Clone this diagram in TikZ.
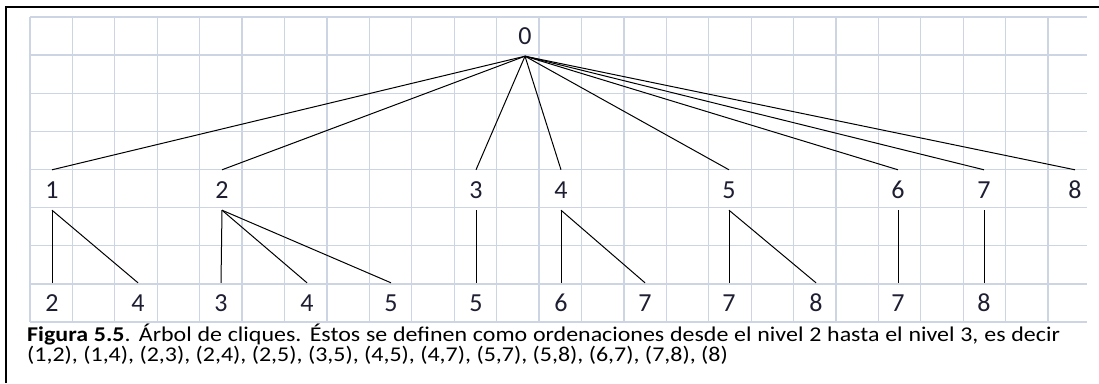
\documentclass[tikz,border=0pt]{standalone}
\usepackage{fontspec}
\setmainfont{Carlito}
\usepackage{graphicx}
\definecolor{gridblue}{RGB}{205,213,228}
\definecolor{digitink}{RGB}{30,30,50}
\tikzset{
  cell/.style={inner sep=0pt, minimum height=40pt, text=digitink,
    font=\fontsize{26}{26}\selectfont},
  edge/.style={line width=1pt},
  gridline/.style={gridblue, line width=1.3pt},
  captext/.style={inner sep=0pt, anchor=base west, font=\fontsize{21}{21}\selectfont},
}

\begin{document}
\begin{tikzpicture}[x=1pt,y=-1pt]
  \useasboundingbox (0,0) rectangle (1099,383);
  % hoja de fondo
  \foreach \i in {0,...,24}
    \draw[gridline] ({30+42.42*\i},17) -- ({30+42.42*\i},322);
  \foreach \j in {0,...,8}
    \draw[gridline] (30,{17+38.125*\j}) -- (1087,{17+38.125*\j});
  \draw[line width=2pt] (6,383) -- (6,7) -- (1099,7);

  % nivel 0 y nivel 1
  \node[cell] (r) at (525,36) {0};
  \node[cell] (n1) at (52,190) {1};
  \node[cell] (n2) at (222,190) {2};
  \node[cell] (n3) at (476,190) {3};
  \node[cell] (n4) at (561,190) {4};
  \node[cell] (n5) at (729,190) {5};
  \node[cell] (n6) at (898,190) {6};
  \node[cell] (n7) at (984,190) {7};
  \node[cell] (n8) at (1075,190) {8};
  \foreach \n in {n1,n2,n3,n4,n5,n6,n7,n8}
    \draw[edge] (r.south) -- (\n.north);

  % nivel 2
  \node[cell] (k12) at (52,303) {2};
  \node[cell] (k14) at (138,303) {4};
  \node[cell] (k23) at (221,303) {3};
  \node[cell] (k24) at (307,303) {4};
  \node[cell] (k25) at (391,303) {5};
  \node[cell] (k35) at (476,303) {5};
  \node[cell] (k46) at (561,303) {6};
  \node[cell] (k47) at (645,303) {7};
  \node[cell] (k57) at (729,303) {7};
  \node[cell] (k58) at (816,303) {8};
  \node[cell] (k67) at (898,303) {7};
  \node[cell] (k78) at (984,303) {8};
  \draw[edge] (n1.south) -- (k12.north);
  \draw[edge] (n1.south) -- (k14.north);
  \draw[edge] (n2.south) -- (k23.north);
  \draw[edge] (n2.south) -- (k24.north);
  \draw[edge] (n2.south) -- (k25.north);
  \draw[edge] (n3.south) -- (k35.north);
  \draw[edge] (n4.south) -- (k46.north);
  \draw[edge] (n4.south) -- (k47.north);
  \draw[edge] (n5.south) -- (k57.north);
  \draw[edge] (n5.south) -- (k58.north);
  \draw[edge] (n6.south) -- (k67.north);
  \draw[edge] (n7.south) -- (k78.north);

  % pie de figura
  \node[captext] (cap1) at (27,341) {\scalebox{1.14}[1]{\makebox[906pt][s]{\textbf{Figura 5.5}. Árbol de cliques. Éstos se definen como ordenaciones desde el nivel 2 hasta el nivel 3, es decir}}};
  \node[captext] (cap2) at (27,361) {\scalebox{1.14}[1]{(1,2), (1,4), (2,3), (2,4), (2,5), (3,5), (4,5), (4,7), (5,7), (5,8), (6,7), (7,8), (8)}};
\end{tikzpicture}
\end{document}
